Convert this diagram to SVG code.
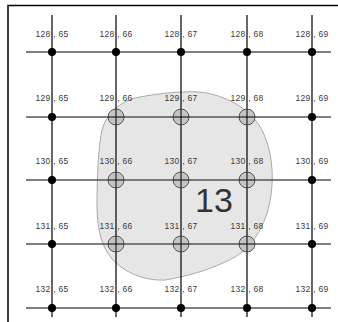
<svg xmlns="http://www.w3.org/2000/svg" width="338" height="322" viewBox="0 0 338 322">
<style>
.lbl{font-family:"Liberation Sans",Arial,sans-serif;font-size:8.5px;fill:#3a3a3a;text-anchor:middle;letter-spacing:0.3px}
.gv{stroke:#000;stroke-width:1.2}
.gh{stroke:#555;stroke-width:1.6}
.dot{fill:#000}
.hit{fill:#c4c4c4;stroke:#555;stroke-width:1}
</style>
<rect width="338" height="322" fill="#fff"/>
<path d="M8 322 V5.5 H338" fill="none" stroke="#000" stroke-width="1.5"/>
<g id="region13">
<path d="M140 97 C160 93,185 91,200 92 C225 95,250 108,262 130 C272 150,274 175,271 195 C268 220,255 245,235 257 C215 268,190 276,165 280 C145 281,125 273,112 259 C100 245,97 225,97 205 C97 180,98 150,102 130 C106 115,120 100,140 97 Z" fill="#e6e6e6" stroke="#aaa" stroke-width="1"/>
<text x="195" y="212" font-family="'Liberation Sans',Arial,sans-serif" font-size="34" fill="#333">13</text>
</g>
<g id="labels" class="lbl">
<text x="52" y="37">128 , 65</text><text x="116" y="37">128 , 66</text><text x="181" y="37">128 , 67</text><text x="247" y="37">128 , 68</text><text x="312" y="37">128 , 69</text>
<text x="52" y="101">129 , 65</text><text x="116" y="101">129 , 66</text><text x="181" y="101">129 , 67</text><text x="247" y="101">129 , 68</text><text x="312" y="101">129 , 69</text>
<text x="52" y="164">130 , 65</text><text x="116" y="164">130 , 66</text><text x="181" y="164">130 , 67</text><text x="247" y="164">130 , 68</text><text x="312" y="164">130 , 69</text>
<text x="52" y="229">131 , 65</text><text x="116" y="229">131 , 66</text><text x="181" y="229">131 , 67</text><text x="247" y="229">131 , 68</text><text x="312" y="229">131 , 69</text>
<text x="52" y="292">132 , 65</text><text x="116" y="292">132 , 66</text><text x="181" y="292">132 , 67</text><text x="247" y="292">132 , 68</text><text x="312" y="292">132 , 69</text>
</g>
<g id="connectors">
<line class="gh" x1="26" y1="52" x2="331" y2="52"/>
<line class="gh" x1="26" y1="117" x2="331" y2="117"/>
<line class="gh" x1="26" y1="180" x2="331" y2="180"/>
<line class="gh" x1="26" y1="244" x2="331" y2="244"/>
<line class="gh" x1="26" y1="308" x2="331" y2="308"/>
<line class="gv" x1="52" y1="15" x2="52" y2="317"/>
<line class="gv" x1="116" y1="15" x2="116" y2="317"/>
<line class="gv" x1="181" y1="15" x2="181" y2="317"/>
<line class="gv" x1="247" y1="15" x2="247" y2="317"/>
<line class="gv" x1="312" y1="15" x2="312" y2="317"/>
</g>
<g id="nodes">
<circle class="dot" cx="52" cy="52" r="4"/><circle class="dot" cx="116" cy="52" r="4"/><circle class="dot" cx="181" cy="52" r="4"/><circle class="dot" cx="247" cy="52" r="4"/><circle class="dot" cx="312" cy="52" r="4"/>
<circle class="dot" cx="52" cy="117" r="4"/><circle class="hit" cx="116" cy="117" r="8"/><circle class="hit" cx="181" cy="117" r="8"/><circle class="hit" cx="247" cy="117" r="8"/><circle class="dot" cx="312" cy="117" r="4"/>
<circle class="dot" cx="52" cy="180" r="4"/><circle class="hit" cx="116" cy="180" r="8"/><circle class="hit" cx="181" cy="180" r="8"/><circle class="hit" cx="247" cy="180" r="8"/><circle class="dot" cx="312" cy="180" r="4"/>
<circle class="dot" cx="52" cy="244" r="4"/><circle class="hit" cx="116" cy="244" r="8"/><circle class="hit" cx="181" cy="244" r="8"/><circle class="hit" cx="247" cy="244" r="8"/><circle class="dot" cx="312" cy="244" r="4"/>
<circle class="dot" cx="52" cy="308" r="4"/><circle class="dot" cx="116" cy="308" r="4"/><circle class="dot" cx="181" cy="308" r="4"/><circle class="dot" cx="247" cy="308" r="4"/><circle class="dot" cx="312" cy="308" r="4"/>
</g>
<g id="crosshairs" stroke="#000" stroke-width="1">
<line x1="116" y1="109" x2="116" y2="125"/><line x1="108" y1="117" x2="124" y2="117"/>
<line x1="181" y1="109" x2="181" y2="125"/><line x1="173" y1="117" x2="189" y2="117"/>
<line x1="247" y1="109" x2="247" y2="125"/><line x1="239" y1="117" x2="255" y2="117"/>
<line x1="116" y1="172" x2="116" y2="188"/><line x1="108" y1="180" x2="124" y2="180"/>
<line x1="181" y1="172" x2="181" y2="188"/><line x1="173" y1="180" x2="189" y2="180"/>
<line x1="247" y1="172" x2="247" y2="188"/><line x1="239" y1="180" x2="255" y2="180"/>
<line x1="116" y1="236" x2="116" y2="252"/><line x1="108" y1="244" x2="124" y2="244"/>
<line x1="181" y1="236" x2="181" y2="252"/><line x1="173" y1="244" x2="189" y2="244"/>
<line x1="247" y1="236" x2="247" y2="252"/><line x1="239" y1="244" x2="255" y2="244"/>
</g>
</svg>
